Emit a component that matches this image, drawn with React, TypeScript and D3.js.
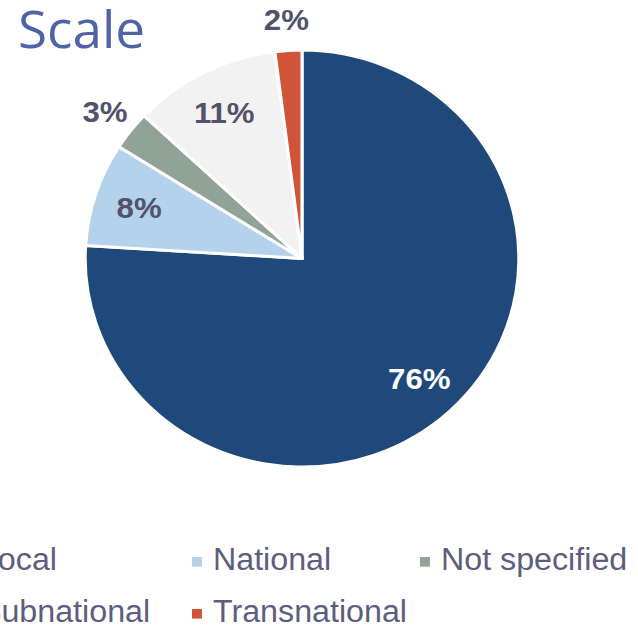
import React, { useEffect, useRef } from 'react';
import * as d3 from 'd3';

const categories = ['Local', 'National', 'Not specified', 'Subnational', 'Transnational'];
const values = [76, 8, 3, 11, 2];
const colors = ['#1f487b', '#b5d2ed', '#91a296', '#f2f2f2', '#d05538'];
// legend grid order (row-major, 3 columns)
const legendOrder = ['Local', 'National', 'Not specified', 'Subnational', 'Transnational'];

const W = 638;
const H = 631;
const STRETCH = 1.04; // the picture is slightly wider than tall

const App: React.FC = () => {
  const svgRef = useRef<SVGSVGElement>(null);

  useEffect(() => {
    if (!svgRef.current) return;
    d3.select(svgRef.current).selectAll('*').remove();

    const svg = d3.select(svgRef.current)
      .attr('width', W)
      .attr('height', H)
      .attr('viewBox', `0 0 ${W} ${H}`);

    const root = svg.append('g').attr('transform', `scale(${STRETCH},1)`);

    // Title
    root.append('text')
      .attr('x', 17.3)
      .attr('y', 48)
      .attr('font-family', '"Open Sans", sans-serif')
      .attr('font-size', 51)
      .attr('fill', '#4f63a6')
      .text('Scale');

    const cx = 290.4;
    const cy = 258.5;
    const r = 208.5;

    const data = categories.map((c, i) => ({ name: c, value: values[i], color: colors[i] }));

    const pie = d3.pie<{ name: string; value: number; color: string }>()
      .sort(null)
      .value(d => d.value)
      .startAngle(0)
      .endAngle(2 * Math.PI);

    const arcs = pie(data);
    const arc = d3.arc<d3.PieArcDatum<{ name: string; value: number; color: string }>>()
      .innerRadius(0)
      .outerRadius(r);

    const g = root.append('g').attr('transform', `translate(${cx},${cy})`);

    g.selectAll('path.slice')
      .data(arcs)
      .enter()
      .append('path')
      .attr('class', 'slice')
      .attr('d', arc)
      .attr('fill', d => d.data.color)
      .attr('stroke', '#fff')
      .attr('stroke-width', 3)
      .attr('stroke-linejoin', 'round');

    // Labels: inside for larger slices, outside for the small ones
    const inner = d3.arc<d3.PieArcDatum<{ name: string; value: number; color: string }>>()
      .innerRadius(r * 0.79)
      .outerRadius(r * 0.79);
    const outer = d3.arc<d3.PieArcDatum<{ name: string; value: number; color: string }>>()
      .innerRadius(r * 1.15)
      .outerRadius(r * 1.15);

    g.selectAll('text.pct')
      .data(arcs)
      .enter()
      .append('text')
      .attr('class', 'pct')
      .attr('transform', d => {
        const [x, y] = (d.data.value < 5 ? outer : inner).centroid(d);
        return `translate(${x},${y})`;
      })
      .attr('text-anchor', 'middle')
      .attr('dominant-baseline', 'central')
      .attr('font-family', '"Liberation Sans", Arial, sans-serif')
      .attr('font-weight', 'bold')
      .attr('font-size', 30)
      .attr('fill', d => (d.data.name === 'Local' ? '#ffffff' : '#52526c'))
      .text(d => `${d.data.value}%`);

    // Legend
    const colPositions = [-39.5, 184.6, 403.8];
    const rowY = d3.scaleLinear().domain([0, 1]).range([570, 622]);

    const legend = root.append('g');
    legendOrder.forEach((name, i) => {
      const col = i % 3;
      const row = Math.floor(i / 3);
      const x = colPositions[col];
      const y = rowY(row);
      legend.append('rect')
        .attr('x', x)
        .attr('y', y - 13)
        .attr('width', 9.6)
        .attr('height', 9.6)
        .attr('fill', colors[categories.indexOf(name)]);
      legend.append('text')
        .attr('x', x + 20.2)
        .attr('y', y)
        .attr('font-family', '"Liberation Sans", Arial, sans-serif')
        .attr('font-size', 31)
        .attr('fill', '#5d5d7d')
        .text(name);
    });
  }, []);

  return (
    <svg
      ref={svgRef}
      style={{ position: 'absolute', left: 0, top: 0, display: 'block', background: '#fff' }}
    />
  );
};

export default App;
